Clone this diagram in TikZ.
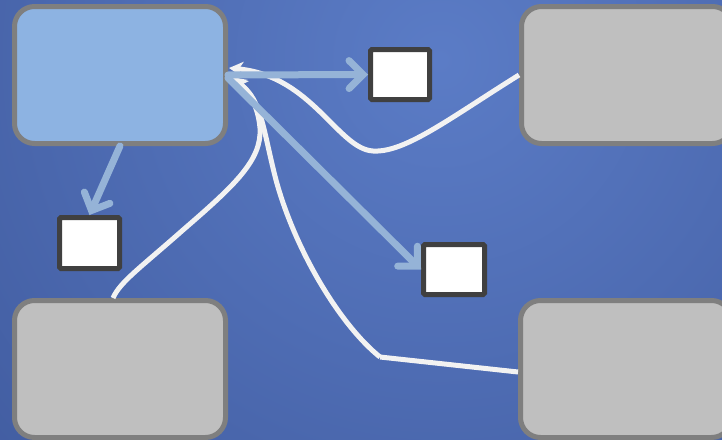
\documentclass[tikz,border=0pt]{standalone}
\usetikzlibrary{arrows.meta}
\definecolor{bglight}{HTML}{5B7CC6}
\definecolor{bgdark}{HTML}{3D579A}
\definecolor{boxedge}{HTML}{7F7F7F}
\definecolor{activefill}{HTML}{8DB3E2}
\definecolor{idlefill}{HTML}{BFBFBF}
\definecolor{tokenedge}{HTML}{404040}
\definecolor{flowblue}{HTML}{95B3D7}
\definecolor{flowwhite}{HTML}{F2F2F2}
\begin{document}
\begin{tikzpicture}[x=1pt,y=-1pt,
  bigbox/.style={draw=boxedge,line width=5pt,rounded corners=20pt,
    minimum width=211pt,minimum height=137pt,inner sep=0pt},
  token/.style={draw=tokenedge,fill=white,line width=5pt,rounded corners=1.5pt,
    minimum width=59pt,minimum height=50pt,inner sep=0pt},
  bluearrow/.style={draw=flowblue,line width=7pt,line cap=round,
    -{Straight Barb[length=14pt,width=28pt,line cap=round]}},
  whitearrow/.style={draw=flowwhite,line width=5pt,
    -{Stealth[length=14pt,width=15pt,inset=4pt]}},
  whiteline/.style={draw=flowwhite,line width=5pt,line join=round}]
  % background
  \begin{scope}
    \clip (0,0) rectangle (722,439);
    \shade[inner color=bglight,outer color=bgdark] (440,60) circle (720);
  \end{scope}
  \useasboundingbox (0,0) rectangle (722,439);

  % state boxes
  \node[bigbox,fill=activefill] (TL) at (120,75) {};
  \node[bigbox,fill=idlefill] (TR) at (627,75) {};
  \node[bigbox,fill=idlefill] (BL) at (120,369) {};
  \node[bigbox,fill=idlefill] (BR) at (626,369) {};

  % tokens
  \node[token] (K1) at (400,74.5) {};
  \node[token,minimum width=60pt,minimum height=51pt] (K2) at (89.5,243) {};
  \node[token,minimum width=61pt] (K3) at (454,269.5) {};

  % return paths into the active box
  \coordinate (in) at ([yshift=2pt]TL.east);
  \path[whitearrow] (TR.west) .. controls (450,118) and (405,153) .. (373,151)
     .. controls (338,149) and (312,76) .. ([xshift=1pt,yshift=5pt]in);
  \path[whitearrow] ([xshift=-7pt]BL.north) .. controls (120,282) and (140,268) .. (183,230)
     .. controls (235,185) and (262,160) .. (260,128)
     .. controls (258,105) and (248,90) .. ([xshift=4pt,yshift=-4pt]in);
  \coordinate (bend) at (380,357);
  \path[whiteline] ([yshift=-3pt]BR.west) -- (bend);
  \path[whitearrow] (bend) .. controls (340,325) and (295,250) .. (276,180)
     .. controls (263,130) and (262,100) .. ([xshift=5pt,yshift=-6pt]in);

  % outgoing transfers
  \path[bluearrow] (TL.east) -- (K1.west);
  \path[bluearrow] (TL.south) -- (K2.north);
  \path[bluearrow] ([yshift=-3pt]TL.east) -- (K3.west);
\end{tikzpicture}
\end{document}
